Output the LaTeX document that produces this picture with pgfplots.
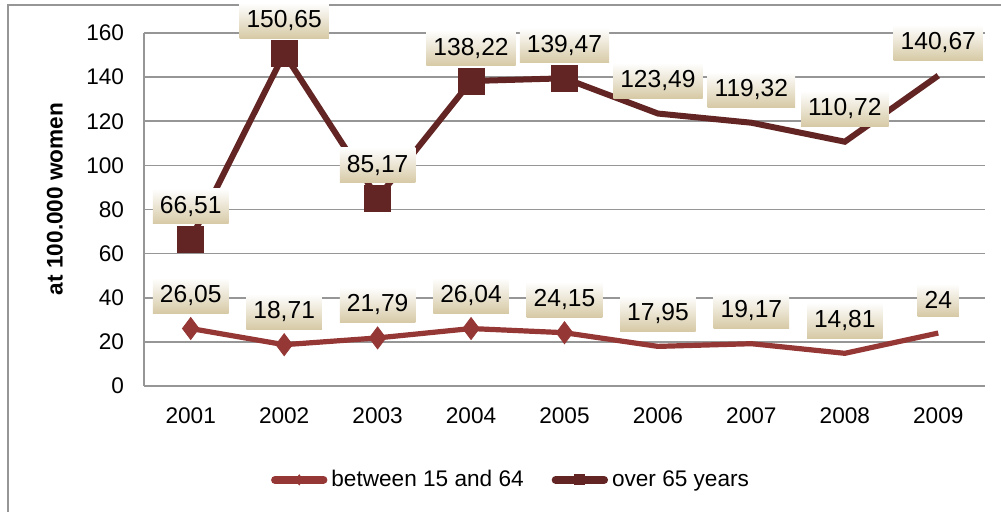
\documentclass[border=0pt]{standalone}
\usepackage{pgfplots}
\pgfplotsset{compat=1.18}
\usepackage{fontspec}
\setmainfont{Liberation Sans}
\definecolor{lowred}{RGB}{149,55,53}
\definecolor{highred}{RGB}{99,37,35}
\definecolor{boxbot}{RGB}{214,201,165}
\definecolor{gridgray}{RGB}{150,150,150}
\newcommand{\cf}{\fontsize{11.3}{13}\selectfont}
\newcommand{\lf}{\fontsize{12.3}{14}\selectfont}
\begin{document}
\cf
\begin{tikzpicture}
\useasboundingbox (0,0) rectangle (500.5pt,256pt);
\draw[gridgray, line width=0.8pt] (4pt,-10pt) rectangle (520pt,253.5pt);
\pgfplotstableread{
x y label
0 26.05 26,05
1 18.71 18,71
2 21.79 21,79
3 26.04 26,04
4 24.15 24,15
5 17.95 17,95
6 19.17 19,17
7 14.81 14,81
8 24 24
}\lowdata
\pgfplotstableread{
x y label
0 66.51 66,51
1 150.65 150,65
2 85.17 85,17
3 138.22 138,22
4 139.47 139,47
5 123.49 123,49
6 119.32 119,32
7 110.72 110,72
8 140.67 140,67
}\highdata
\begin{axis}[
  at={(72pt,63pt)}, anchor=south west,
  width=420.5pt, height=176.5pt, scale only axis,
  xmin=-0.5, xmax=8.5, ymin=0, ymax=160,
  ytick={0,20,...,160},
  xtick={0,...,8},
  xticklabels={2001,2002,2003,2004,2005,2006,2007,2008,2009},
  /pgf/number format/assume math mode=true,
  ticklabel style={font=\cf},
  axis x line*=bottom, axis y line*=left,
  axis line style={gridgray, line width=0.9pt},
  ymajorgrids, grid style={gridgray, line width=0.8pt},
  tick pos=left,
  ytick style={gridgray, line width=0.8pt},
  xtick style={draw=none},
  major tick length=4pt,
  yticklabel style={xshift=-6pt},
  xticklabel style={yshift=-7pt},
  ylabel={\textbf{at 100.000 women}},
  ylabel style={at={(axis description cs:-0.106,0.53)}, anchor=center, font=\cf},
  clip=false,
  legend style={at={(0.4376,-0.266)}, anchor=center, draw=none, fill=none,
     legend columns=2, font=\cf,
     /tikz/every odd column/.append style={column sep=0pt},
     /tikz/every even column/.append style={column sep=12pt}},
  legend image code/.code={
     \draw[line cap=round, line width=4pt] (0.05cm,0cm)--(0.9cm,0cm);
     \draw[mark size=2.5pt, line width=0.4pt] plot coordinates {(0.475cm,0cm)};
  },
]
\addplot[color=lowred, line width=2.6pt, mark=diamond*, mark size=5.5pt,
  mark options={line width=0.4pt, fill=lowred}, mark indices={1,2,3,4,5}]
  table {\lowdata};
\addlegendentry{between 15 and 64}
\addplot[color=highred, line width=3pt, mark=square*, mark size=6.5pt,
  mark options={line width=0.4pt, fill=highred}, mark indices={1,2,3,4,5}]
  table {\highdata};
\addlegendentry{over 65 years}
\pgfplotsset{every node near coord/.append style={anchor=center, yshift=16.5pt,
     top color=white, bottom color=boxbot, text=black,
     inner xsep=3.5pt, minimum height=15.5pt, font=\lf}}
\addplot[draw=none, mark=none, forget plot, point meta=explicit symbolic,
  nodes near coords] table[meta=label] {\lowdata};
\addplot[draw=none, mark=none, forget plot, point meta=explicit symbolic,
  nodes near coords] table[meta=label] {\highdata};
\end{axis}
\end{tikzpicture}
\end{document}
